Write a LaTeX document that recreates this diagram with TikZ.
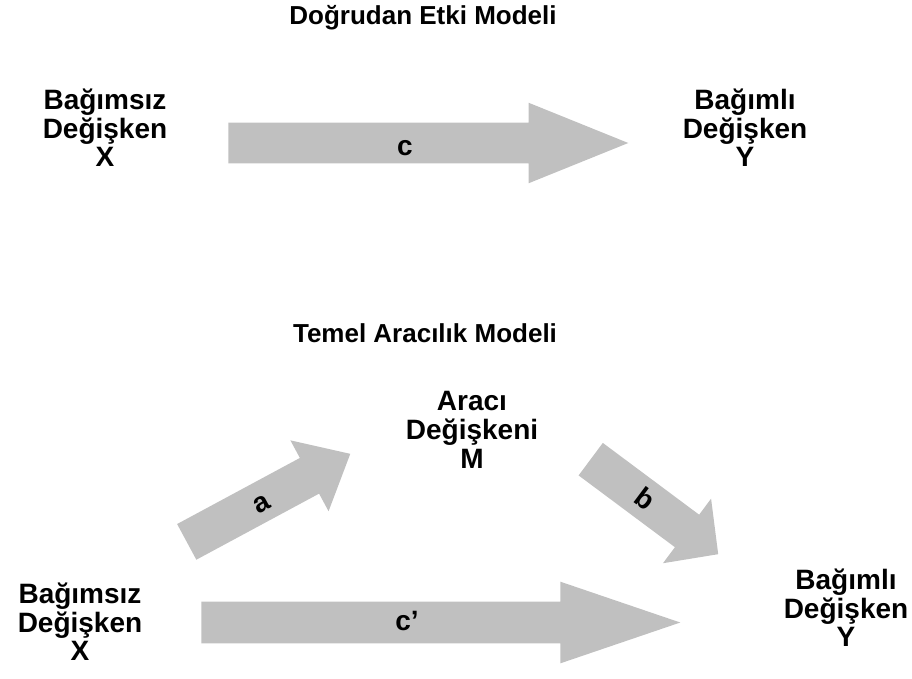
\documentclass[tikz,border=0pt]{standalone}
\usepackage{fontspec}
\setmainfont{Liberation Sans}
\usetikzlibrary{shapes.arrows, positioning}
\definecolor{okgri}{RGB}{192,192,192}

\begin{document}
\begin{tikzpicture}[x=0.75pt, y=-0.75pt,
            var/.style = {align=center, inner sep=0pt, font=\bfseries\fontsize{21}{21.5}\selectfont},
            baslik/.style = {inner sep=0pt, font=\bfseries\fontsize{19.5}{22}\selectfont},
            harf/.style = {inner sep=0pt, font=\bfseries\fontsize{21}{22}\selectfont},
            okbox/.style = {single arrow, fill=okgri, draw=none, anchor=tail, inner xsep=0pt, inner ysep=15pt,
                            minimum width=60pt, single arrow head extend=15pt}]
            \useasboundingbox (0,0) rectangle (912,678);
            % dogrudan etki
            \node[baslik] (t1) at (423,18) {Doğrudan Etki Modeli};
            \node[var] (x1) at (105,128) {Bağımsız\\Değişken\\X};
            \node[var] (y1) at (745,128) {Bağımlı\\Değişken\\Y};
            \node[okbox, minimum height=300pt, single arrow tip angle=44] (c) at (228,143) {};
            \node[harf, anchor=base] (lc) at (405,155) {c};
            % aracilik
            \node[baslik] (t2) at (425,333) {Temel Aracılık Modeli};
            \node[var] (m) at (472,430) {Aracı\\Değişkeni\\M};
            \node[var] (x2) at (80,622) {Bağımsız\\Değişken\\X};
            \node[var] (y2) at (846,608) {Bağımlı\\Değişken\\Y};
            \node[okbox, minimum height=139.3pt, single arrow tip angle=82, rotate=28.3] (a) at (186.5,542) {};
            \node[harf, rotate=28.3] (la) at (262,504) {a};
            \node[okbox, minimum height=119.25pt, single arrow tip angle=92, rotate=-36.7] (b) at (590.5,459) {};
            \node[harf, rotate=-36.7] (lb) at (645,499) {b};
            \node[okbox, minimum height=359.25pt, inner ysep=15.4pt, single arrow tip angle=37.6] (cp) at (201,622.5) {};
            \node[harf, anchor=base] (lcp) at (407,630) {c’};
\end{tikzpicture}
\end{document}
